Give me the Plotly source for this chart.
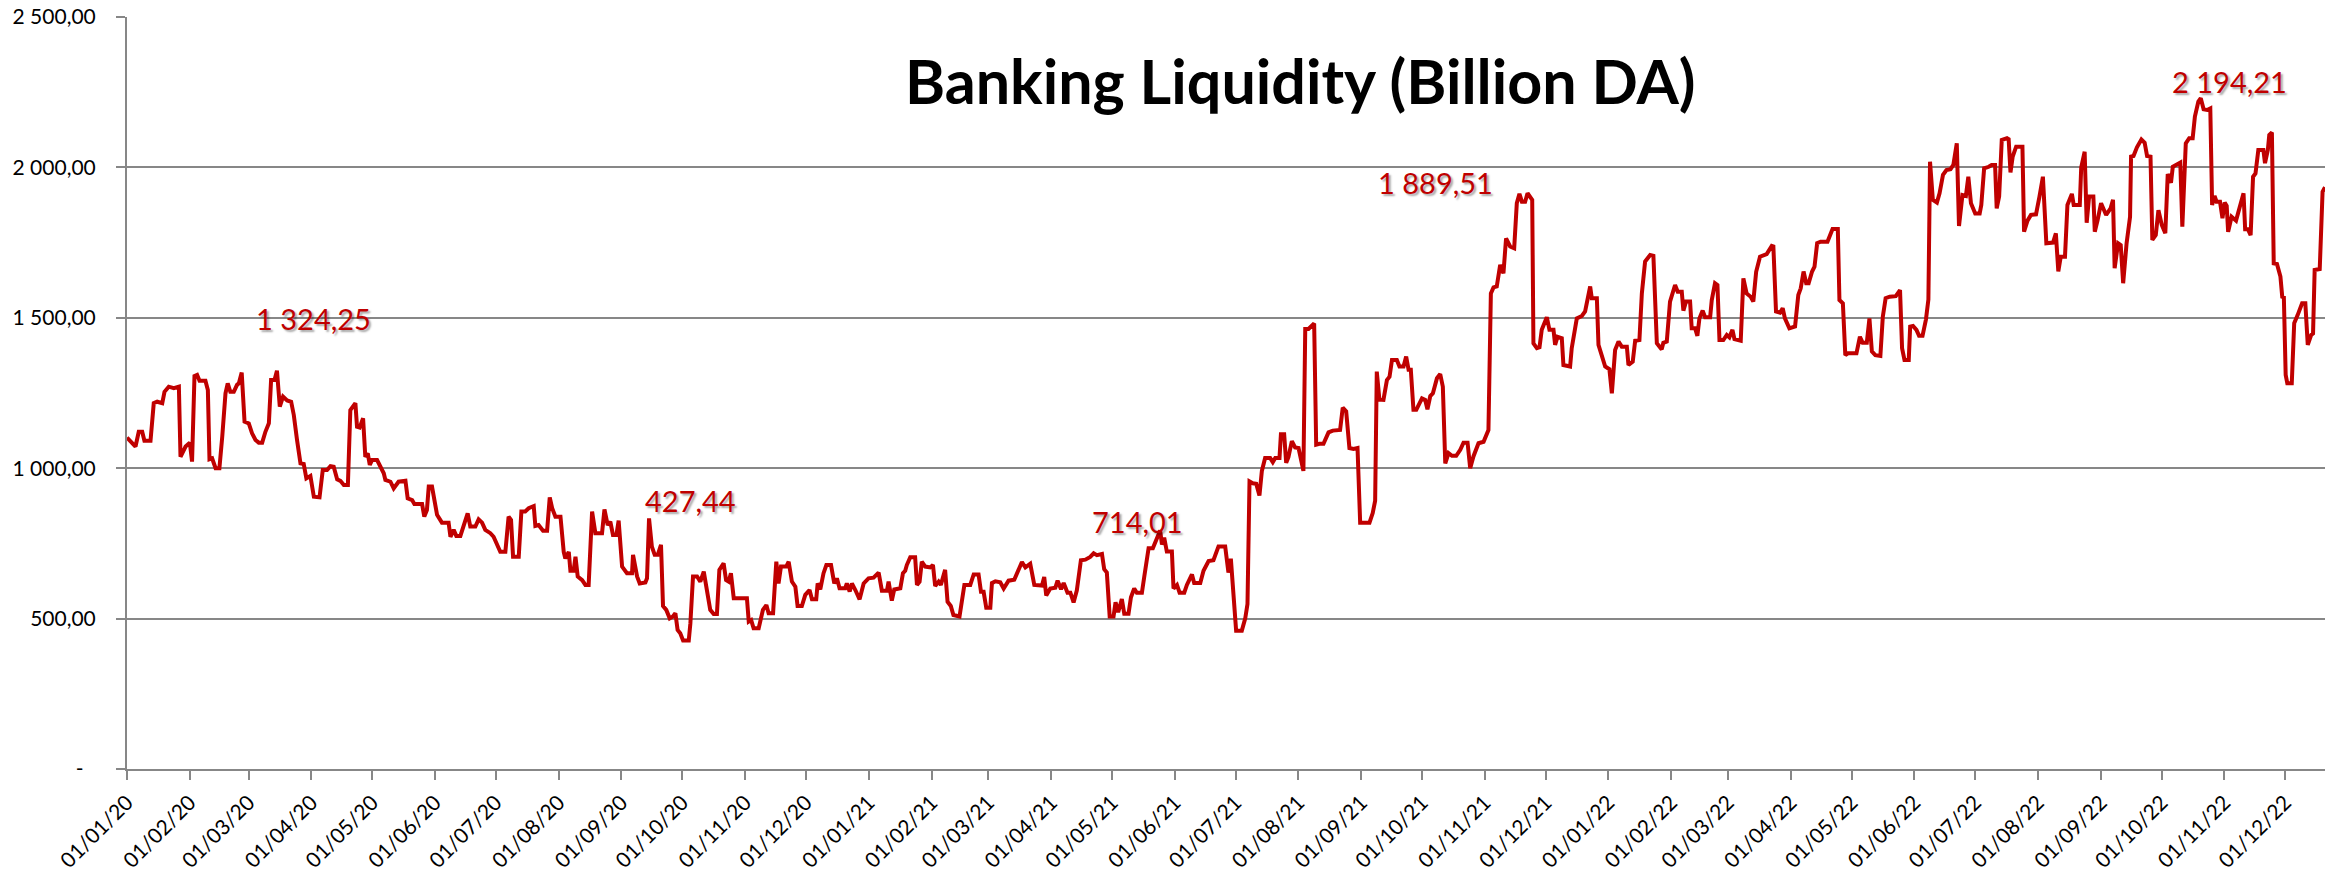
import pandas as pd
import plotly.graph_objects as go

# ---------------- data ----------------
START_DATE = "2020-01-01"

# position of each reading, in days after 01/01/2020
day_offset = [
    0, 1.7, 4.2, 5.8, 7.5, 8.6, 11.6, 13.2, 14.9, 17.4, 18.5, 20.6, 23.1, 25.6, 26.4, 28.9,
    31, 32.1, 33.3, 34.6, 35.8, 38.7, 39.9, 40.7, 42, 43.7, 45.6, 47, 48.6, 49.7, 51, 52.7,
    54.3, 55.2, 56.6, 58, 60.1, 61.7, 63.4, 65, 66.7, 68.3, 70, 71.1, 72.8, 74, 75.4, 77,
    79, 81, 82.3, 83.9, 85.6, 87.2, 88.5, 90.5, 92.2, 95, 96.6, 98.7, 100.4, 102, 103.7,
    105.3, 107, 109, 110.2, 112.7, 113.5, 114.8, 116.5, 117.6, 118.8, 119.8, 120.9, 123.4,
    125, 126.7, 127.5, 130, 131.6, 134, 137.4, 138.5, 140.7, 141.8, 145.6, 146.7, 148,
    148.9, 150.5, 153, 155.4, 158.7, 159.6, 161.2, 162.5, 164.5, 166.1, 168.1, 169.4,
    171.9, 173.5, 175.2, 176.8, 179.3, 180.9, 184.2, 186.7, 188.3, 189.5, 190.5, 193.3,
    194.6, 196.5, 198.2, 200.7, 201.5, 203.1,
    205.3, 207.3, 208.6, 209.8, 211.4, 213.9, 215.5, 216.3, 218, 218.8, 220.4, 221.3,
    222.4, 224.6, 226.2, 227.8, 229.5, 231.1, 234.4, 235.6, 237.2, 238.5, 239.8, 241.5,
    242.6, 244.3, 246.7, 249.2, 249.7, 251.7, 253, 255.8, 256.6, 257.6, 259, 260.4, 261.9,
    263.5, 264.5, 266.1, 267.8, 269.4, 270.6, 271.7, 273, 274.4, 277.2, 278, 279.3, 281.3,
    282.9, 284.6, 285.9, 287.8, 289.5, 291.1, 292.3, 294.4, 295.6, 296.9, 298, 299.4,
    305.9, 306.8, 308, 309.2, 311.7, 313.8, 315.5, 316.6, 318.8, 320.4, 321.5, 322.7,
    325.3, 326.5, 328.1, 329.8, 330.9, 333, 334.7, 336.8, 338, 340.1, 340.8, 342.1, 343.7,
    345.1, 347.4, 349, 350.3, 351.6, 354.4, 355.2, 356.6, 357.7, 359.4, 361.5, 363.5,
    365.9, 368.4, 370.9, 372.5, 375, 375.8, 377.4, 378.6, 381.6, 382.9, 384, 384.8, 386.5,
    388.9, 389.8, 391.1, 392.2, 393.9, 396.3, 397.7, 398.8, 400.5, 401.6, 403.7, 404.9,
    406.5, 407.8, 410.8,
    413.2, 416.1, 417.8, 420.2, 421.4, 422.7, 424, 426, 426.8, 428.5, 430.9, 432.6, 435,
    437.8, 440, 441.6, 443.3, 445.7, 447.7, 451.5, 452.6, 453.6, 455.6, 458.1, 459.2,
    460.9, 462.2, 464.1, 465.5, 467.1, 468.7, 470.7, 472.9, 475.3, 477, 478.6, 481.1,
    482.2, 483.5, 484.9, 486.8, 487.8, 489.1, 490.9, 492.1, 494.2, 495.4, 497, 498.3,
    500.8, 502, 504.1, 506.2, 508.2, 509.8, 510.7, 511.8, 513.1, 515.6, 516.4, 518.1,
    519.4, 521.7, 523, 525.5, 526.6, 529.6, 531.2, 533.7, 536.1, 538.6, 541.9, 543.5,
    544.7, 546, 547.3, 550.1, 551.8, 552.9, 553.9, 555.5, 557.2, 558.8, 560, 561.6, 564.1,
    565.4, 566.6, 568.7, 569.4, 571, 572, 573.1, 574.8, 576.4, 578.1, 580.5, 581.4, 583,
    585.8, 586.8, 588.4, 590.4, 592.9, 595, 598.6, 599.9, 601.6, 603.2, 605.2, 607.2,
    608.5, 613.1, 614.7, 615.9, 616.7, 618,
    620, 621.7, 623, 624.2, 626.6, 627.9, 629.9, 631.2, 632.4, 633.5, 634.8, 636.2, 637.3,
    639, 640.6, 641.7, 643.1, 644.4, 646.4, 648, 649.3, 650.5, 652.1, 653.8, 655.9, 657.9,
    659.5, 661.5, 662.8, 664.4, 666.9, 669.4, 671.8, 673, 674.3, 675.9, 677.6, 679.2,
    680.5, 682.5, 684.5, 685.8, 687.1, 688.3, 689.9, 691.1, 693.4, 694, 695.7, 697, 698.1,
    700.6, 701.9, 703.9, 704.7, 705.9, 708, 708.8, 712.1, 712.9, 715.4, 717.9, 719.5, 722,
    722.8, 725.3, 726.1, 727.7, 729.4, 731.5, 732.7, 734.3, 736, 737.6, 740.1, 740.9, 743,
    744.2, 746.3, 747.5, 749.1, 751.6, 753.2, 754.9, 757.3, 758.1, 759.8, 761.4, 763.9,
    765.2, 767.2, 768, 769.3, 771.3, 772.1, 773.8, 774.9, 775.9, 777.5, 778.7, 781.2, 782,
    783.6, 784.8, 785.8, 787.7, 789.4, 790.7, 792.2, 793.2, 796.3, 797.6, 799.2, 801.2,
    802.5, 803.9, 805.8, 809.1, 811.6, 812.4, 813.7, 815.7, 817, 818.1, 820.3, 823.1,
    824.7, 825.9,
    827.3, 828.6, 829.8, 831.5, 832.7, 834, 835.7, 839.1, 840.4, 841.6, 844.2, 845, 846.7,
    847.9, 849.2, 853.4, 855.1, 856.5, 858.5, 859.8, 861, 862.7, 865.2, 866.4, 867.8,
    869.8, 872.8, 874.9, 875.9, 877.1, 879.2, 879.9, 881.3, 883, 884.3, 886, 887.7, 888.9,
    889.7, 891.1, 893.1, 894.4, 896.1, 897.8, 899.8, 901.2, 902.9, 904, 905.7, 907.4,
    908.6, 909.9, 912, 914.2, 915, 916.4, 918.7, 920.1, 921.8, 922.6, 923.8, 925.1, 927.7,
    928.5, 929.4, 930.5, 932.2, 935.3, 936.1, 937.8, 939.5, 942, 943.7, 945.4, 947.1,
    950.4, 951.8, 953, 954.2, 956.3, 957.5, 959.7, 960.6, 963.6, 964.3, 966, 967, 968.2,
    970.3, 971, 972.4, 974.1, 976.6, 978.8, 980, 980.8, 982.5, 983.8, 985, 986.7, 988.4,
    988.9, 990.1, 991.8, 994, 995.6, 996.8, 998.5, 999.4, 1001.1, 1002.4, 1004.1, 1005.8,
    1007, 1008.6, 1009.5, 1013.2, 1014.2, 1015.9, 1017.6, 1019.3, 1020.4, 1022.1, 1023.3,
    1024.7, 1026.4, 1028, 1028.9, 1030.1, 1031.1, 1032.8, 1034, 1035.1, 1036.1, 1036.8,
    1038.5, 1040.7, 1042.4, 1044.4, 1045.2, 1046.6, 1047.9, 1049.1, 1050.3, 1051.7,
    1054.2, 1055, 1056.4, 1057.1, 1058.4, 1059.3, 1060.9, 1062.6, 1063.5, 1064.3, 1065.2,
    1066, 1068.2, 1069.4, 1071.1, 1073.3, 1074.9, 1076.1, 1077.8, 1078.7, 1079.5, 1082,
    1083.4, 1084.6,
]

# banking liquidity, billion DA
liquidity = [
    1102, 1088, 1072, 1121, 1121, 1091, 1091, 1216, 1221, 1216, 1254, 1271, 1266, 1271, 1038, 1072,
    1085, 1022, 1306, 1310, 1291, 1291, 1260, 1030, 1033, 1000, 1000, 1105, 1249, 1282, 1254, 1254,
    1277, 1282, 1318, 1155, 1149, 1116, 1094, 1085, 1085, 1121, 1149, 1293, 1293, 1324.25, 1205, 1238,
    1225, 1221, 1177, 1094, 1016, 1014, 966, 974, 905, 903, 994, 994, 1007, 1005, 963,
    958, 944, 944, 1193, 1216, 1138, 1135, 1166, 1038, 1049, 1011, 1027, 1027,
    1005, 983, 961, 955, 933, 955, 958, 900, 894, 881, 881, 839, 861,
    939, 939, 845, 819, 819, 772, 795, 775, 775, 808, 850, 806,
    806, 830, 819, 795, 784, 772, 722, 722, 839, 828, 706, 706,
    856, 856, 867, 874, 808, 811,
    792, 792, 903, 867, 839, 839, 722, 700, 722, 659, 659, 706,
    640, 628, 612, 612, 856, 784, 784, 863, 811, 822, 778, 778,
    826, 673, 651, 651, 712, 640, 617, 620, 634, 833, 739, 712, 712,
    745, 542, 529, 501, 507, 518, 462, 451, 427.44, 427.44, 484, 640, 640,
    623, 656, 606, 529, 515, 515, 662, 684, 628, 623, 651, 568,
    568, 490, 495, 468, 468, 529, 545, 518, 518, 689, 617, 673,
    673, 689, 623, 606, 542, 542, 579, 595, 564, 564, 617, 597, 651,
    678, 678, 617, 634, 601, 601, 617, 590, 617, 595, 564, 617,
    634, 636, 653, 593, 593, 623, 560, 597, 601, 651, 659, 678, 704,
    704, 612, 623, 689, 673, 670, 678, 608, 623, 612, 662, 556,
    542, 512, 507,
    612, 612, 647, 647, 589, 589, 536, 536, 618, 624, 621, 600, 626,
    629, 659, 688, 670, 682, 612, 610, 638, 577, 600, 603, 626,
    598, 618, 586, 586, 554, 594, 694, 696, 705, 717, 711, 715,
    664, 653, 507, 507, 554, 521, 565, 516, 516, 571, 600, 586,
    586, 641, 734, 734, 764, 793, 746, 769, 723, 723, 600, 612,
    586, 586, 612, 647, 618, 618, 659, 691, 694, 740, 740, 653,
    699, 577, 460, 460, 501, 548, 956, 950, 948, 909, 991, 1034, 1034,
    1020, 1034, 1034, 1113, 1113, 1018, 1037, 1090, 1069, 1067, 991, 1463, 1463,
    1481, 1078, 1081, 1081, 1119, 1125, 1127, 1201, 1189, 1067, 1064, 1067,
    819, 819, 851, 892, 1321, 1228,
    1227, 1293, 1304, 1360, 1360, 1338, 1338, 1371, 1327, 1327, 1194, 1194, 1210,
    1232, 1227, 1196, 1240, 1249, 1299, 1313, 1271, 1016, 1050, 1041, 1041, 1061,
    1085, 1085, 1000, 1039, 1083, 1088, 1127, 1581, 1601, 1604, 1676, 1648,
    1764, 1737, 1731, 1881, 1912, 1886, 1886, 1914, 1892, 1415, 1399, 1402, 1460,
    1502, 1460, 1460, 1410, 1437, 1432, 1343, 1338, 1399, 1498, 1506, 1521, 1604,
    1565, 1565, 1410, 1376, 1338, 1329, 1249, 1393, 1421, 1404, 1404, 1343, 1354,
    1424, 1426, 1581, 1687, 1709, 1706, 1415, 1395, 1417, 1421, 1554, 1609,
    1587, 1587, 1524, 1554, 1554, 1465, 1465, 1440, 1498, 1524, 1502, 1502, 1559,
    1615, 1609, 1426, 1426, 1443, 1435, 1460, 1429, 1424, 1631, 1581, 1570,
    1554, 1653, 1703, 1712, 1739, 1737, 1521, 1517, 1532, 1498, 1465, 1471,
    1576, 1598,
    1654, 1615, 1615, 1654, 1670, 1748, 1753, 1753, 1775, 1795, 1795, 1559, 1548,
    1376, 1382, 1382, 1437, 1417, 1417, 1498, 1388, 1376, 1373, 1504, 1565,
    1570, 1572, 1592, 1399, 1360, 1360, 1471, 1473, 1460, 1440, 1440, 1495, 1561,
    2019, 1892, 1883, 1914, 1975, 1991, 1994, 2008, 2080, 1805, 1908, 1905,
    1969, 1881, 1847, 1847, 1875, 1997, 2002, 2008, 2008, 1864, 1903, 2091, 2097,
    2094, 1983, 2036, 2069, 2069, 1786, 1823, 1842, 1844, 1903, 1969, 1748,
    1750, 1781, 1654, 1703, 1703, 1875, 1912, 1875, 1875, 2000, 2052, 1816, 1903,
    1903, 1786, 1825, 1881, 1842, 1864, 1892, 1665, 1748, 1742, 1615, 1748, 1836,
    2036, 2038, 2067, 2093, 2082, 2038, 2036, 1759, 1775, 1858, 1808, 1781,
    1978, 1949, 2002, 2016, 1803, 2080, 2097, 2097, 2169, 2219, 2230,
    2193, 2191, 2196, 1875, 1905, 1886, 1886, 1831, 1883, 1872, 1786,
    1836, 1823, 1870, 1914, 1794, 1794, 1775, 1969, 1980, 2058,
    2058, 2014, 2058, 2108, 2116, 1681, 1679, 1637, 1570, 1568, 1310,
    1282, 1282, 1482, 1509, 1548, 1548, 1410, 1443, 1448, 1659, 1662,
    1919, 1934,
]

# axis ticks
y_tick_values = [0, 500, 1000, 1500, 2000, 2500]
y_tick_labels = ["-\u2007", "500,00", "1 000,00", "1 500,00", "2 000,00", "2 500,00"]
x_tick_dates = pd.date_range("2020-01-01", "2022-12-01", freq="MS")
x_tick_labels = [d.strftime("%d/%m/%y") for d in x_tick_dates]

# data labels written on the chart
label_text = ["1 324,25", "427,44", "714,01", "1 889,51", "2 194,21"]
label_x = ["2020-04-01 19:00", "2020-10-05 00:00", "2021-05-13 12:00",
           "2021-10-07 14:00", "2022-11-03 17:00"]
label_y = [1498, 894, 823, 1950, 2286]

TITLE = "Banking Liquidity (Billion DA)"

# ---------------- figure ----------------
dates = pd.Timestamp(START_DATE) + pd.to_timedelta(day_offset, unit="D")

GRID = "#878787"
RED = "#C00000"
FONT = "Lato"

fig = go.Figure()
fig.add_trace(go.Scatter(
    x=dates, y=liquidity, mode="lines",
    line=dict(color=RED, width=4),
    hoverinfo="skip",
))

for t, lx, ly in zip(label_text, label_x, label_y):
    fig.add_annotation(
        x=lx, y=ly, xref="x", yref="y", text=t, showarrow=False,
        font=dict(family=FONT, size=29, color=RED, shadow="2px 2px 2px rgba(0,0,0,0.35)"),
        xanchor="center", yanchor="middle",
    )

fig.add_annotation(
    x=0.5337, y=0.916, xref="paper", yref="paper", text=TITLE, showarrow=False,
    font=dict(family=FONT, size=61, color="black", weight="bold"),
    xanchor="center", yanchor="middle",
)

fig.update_layout(
    width=2336, height=872,
    margin=dict(l=127, r=11, t=17, b=103),
    plot_bgcolor="white", paper_bgcolor="white",
    showlegend=False,
    font=dict(family=FONT, color="black"),
)

fig.update_xaxes(
    type="date",
    range=[dates[0], dates[-1]],
    tickmode="array", tickvals=list(x_tick_dates), ticktext=x_tick_labels,
    tickangle=-45, tickfont=dict(family=FONT, size=21, color="black"),
    ticks="outside", ticklen=9, tickwidth=2, tickcolor=GRID,
    showline=True, linecolor=GRID, linewidth=2,
    showgrid=False, zeroline=False,
    ticklabelstandoff=2,
    automargin=False,
)

fig.update_yaxes(
    range=[0, 2500],
    tickmode="array", tickvals=y_tick_values, ticktext=y_tick_labels,
    tickfont=dict(family=FONT, size=21, color="black"),
    ticks="outside", ticklen=9, tickwidth=2, tickcolor=GRID,
    showline=True, linecolor=GRID, linewidth=2,
    showgrid=True, gridcolor=GRID, gridwidth=2,
    zeroline=False,
    ticklabelstandoff=16,
    automargin=False,
)

fig.write_html("out.html")
